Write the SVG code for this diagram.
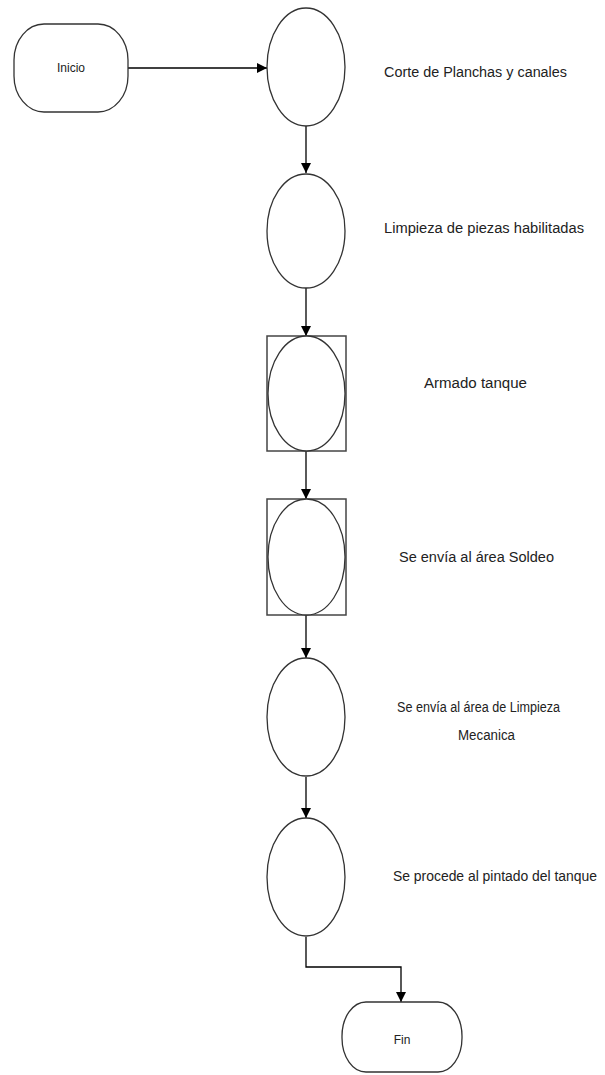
<svg xmlns="http://www.w3.org/2000/svg" width="605" height="1075" viewBox="0 0 605 1075">
  <defs>
    <marker id="arr" viewBox="0 0 10 10" refX="10" refY="5" markerWidth="10" markerHeight="10" markerUnits="userSpaceOnUse" orient="auto">
      <path d="M0,0 L10,5 L0,10 Z" fill="#000"/>
    </marker>
    <style>
      .shape { fill: #fff; stroke: #333; stroke-width: 1.3; }
      .box { fill: #fff; stroke: #444; stroke-width: 1.5; }
      .conn { fill: none; stroke: #000; stroke-width: 1.3; }
      .lbl { font-family: "Liberation Sans", Arial, sans-serif; font-size: 14px; fill: #222; }
      .in { font-family: "Liberation Sans", Arial, sans-serif; font-size: 12px; fill: #222; text-anchor: middle; }
    </style>
  </defs>
  <rect width="605" height="1075" fill="#fff"/>

  <g id="connectors">
    <path class="conn" d="M128,68 L267,68" marker-end="url(#arr)"/>
    <path class="conn" d="M306,126 L306,173" marker-end="url(#arr)"/>
    <path class="conn" d="M306,288 L306,336" marker-end="url(#arr)"/>
    <path class="conn" d="M306,451 L306,499" marker-end="url(#arr)"/>
    <path class="conn" d="M306,615 L306,658" marker-end="url(#arr)"/>
    <path class="conn" d="M306,777 L306,818" marker-end="url(#arr)"/>
    <path class="conn" d="M306,937 L306,967 L401,967 L401,1002" marker-end="url(#arr)"/>
  </g>

  <g id="inicio">
    <rect class="shape" x="14" y="24" width="114" height="88" rx="30" ry="36"/>
    <text class="in" x="71" y="72">Inicio</text>
  </g>

  <g id="n1">
    <ellipse class="shape" cx="306" cy="67" rx="39" ry="59"/>
    <text class="lbl" x="384" y="77" textLength="183" lengthAdjust="spacingAndGlyphs">Corte de Planchas y canales</text>
  </g>

  <g id="n2">
    <ellipse class="shape" cx="306" cy="231" rx="39" ry="57"/>
    <text class="lbl" x="384" y="233" textLength="200" lengthAdjust="spacingAndGlyphs">Limpieza de piezas habilitadas</text>
  </g>

  <g id="n3">
    <rect class="box" x="267" y="336" width="79" height="115"/>
    <ellipse class="shape" cx="306.5" cy="393.5" rx="38.5" ry="57.5"/>
    <text class="lbl" x="424" y="388" textLength="103" lengthAdjust="spacingAndGlyphs">Armado tanque</text>
  </g>

  <g id="n4">
    <rect class="box" x="267" y="499" width="79" height="116"/>
    <ellipse class="shape" cx="306.5" cy="557" rx="38.5" ry="58"/>
    <text class="lbl" x="399" y="562" textLength="155" lengthAdjust="spacingAndGlyphs">Se envía al área Soldeo</text>
  </g>

  <g id="n5">
    <ellipse class="shape" cx="306" cy="717" rx="39" ry="59"/>
    <text class="lbl" x="397" y="712" textLength="163" lengthAdjust="spacingAndGlyphs">Se envía al área de Limpieza</text>
    <text class="lbl" x="458" y="740" textLength="57" lengthAdjust="spacingAndGlyphs">Mecanica</text>
  </g>

  <g id="n6">
    <ellipse class="shape" cx="306" cy="877" rx="39" ry="59"/>
    <text class="lbl" x="393" y="881" textLength="204" lengthAdjust="spacingAndGlyphs">Se procede al pintado del tanque</text>
  </g>

  <g id="fin">
    <rect class="shape" x="342" y="1002" width="120" height="70" rx="24" ry="34"/>
    <text class="in" x="402" y="1044">Fin</text>
  </g>
</svg>
